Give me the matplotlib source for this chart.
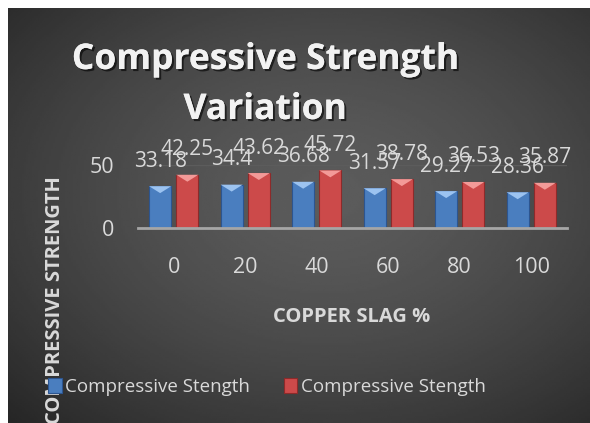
import numpy as np
import matplotlib
matplotlib.use('Agg')
import matplotlib.pyplot as plt
from matplotlib.patches import Polygon
import matplotlib.patheffects as pe

plt.rcParams['font.family'] = ['Open Sans', 'DejaVu Sans']

categories = ['0', '20', '40', '60', '80', '100']
series_a = [33.18, 34.4, 36.68, 31.57, 29.27, 28.36]
series_b = [42.25, 43.62, 45.72, 38.78, 36.53, 35.87]
series_names = ['Compressive Stength', 'Compressive Stength']

W, H = 590, 423
fig = plt.figure(figsize=(W / 100, H / 100), dpi=100)
fig.patch.set_facecolor('white')

# dark radial background
bg = fig.add_axes([8 / W, 0, 1 - 8 / W, 1 - 8 / H])
bg.set_axis_off()
yy, xx = np.mgrid[0:1:200j, 0:1:280j]
r = np.sqrt(((xx - 0.55) / 0.75) ** 2 + ((yy - 0.45) / 0.75) ** 2)
grad = np.clip(0.36 - 0.2 * r ** 1.5, 0.15, 0.37)
bg.imshow(grad, cmap='gray', vmin=0, vmax=1, aspect='auto', extent=[0, 1, 0, 1])

txt = '#d9d9d9'
shadow = [pe.withSimplePatchShadow(offset=(1.5, -1.5), shadow_rgbFace='black', alpha=0.6), pe.Normal()]

ax = fig.add_axes([138 / W, (H - 228) / H, (567 - 138) / W, 63 / H])
ax.set_facecolor('none')
x = np.arange(len(categories))
bw = 0.31
off = 0.19
colors = [('#4a7ebf', '#9cc3f0', '#2c5590'), ('#cc4a4a', '#f39a98', '#8e2a2a')]
for vals, sign, (c, hi, dk) in zip([series_a, series_b], [-1, 1], colors):
    ax.bar(x + sign * off, vals, bw, color=c, edgecolor=dk, linewidth=0.8, zorder=2)
    for xi, v in zip(x + sign * off, vals):
        ax.add_patch(Polygon([(xi - bw / 2, v), (xi + bw / 2, v), (xi, v - 5.5)],
                             closed=True, facecolor=hi, edgecolor='none', zorder=3))
        ax.annotate(f'{v:g}', (xi, v), xytext=(0, 18), textcoords='offset points',
                    ha='center', va='center', color=txt, fontsize=15, zorder=4,
                    annotation_clip=False)

ax.set_xlim(-0.5, len(categories) - 0.5)
ax.set_ylim(0, 50)
ax.set_yticks([0, 50])
ax.set_xticks(x)
ax.set_xticklabels(categories)
ax.axhline(50, color='#5c5c5c', linewidth=1, zorder=1)
for s in ['top', 'right', 'left']:
    ax.spines[s].set_visible(False)
ax.spines['bottom'].set_color('#a6a6a6')
ax.spines['bottom'].set_linewidth(2)
ax.spines['bottom'].set_zorder(5)
ax.tick_params(length=0, colors=txt, labelsize=15.5)
ax.tick_params(axis='x', pad=21)
ax.tick_params(axis='y', pad=17)

fig.text(265 / W, 1 - 60 / H, 'Compressive Strength', ha='center', va='center',
         fontsize=25.5, fontweight='bold', color='#f2f2f2', path_effects=shadow)
fig.text(265 / W, 1 - 110 / H, 'Variation', ha='center', va='center',
         fontsize=25.5, fontweight='bold', color='#f2f2f2', path_effects=shadow)
fig.text(352 / W, 1 - 317 / H, 'COPPER SLAG %', ha='center', va='center',
         fontsize=14.5, fontweight='bold', color=txt)
fig.text(55 / W, 1 - 300 / H, 'COMPRESSIVE STRENGTH', ha='center', va='center',
         rotation=90, fontsize=14.5, fontweight='bold', color=txt)

handles = [ax.patches[0], ax.patches[12]]
leg = fig.legend(handles, series_names, loc='center', bbox_to_anchor=(267 / W, 1 - 387 / H),
                 ncol=2, frameon=False, handlelength=0.7, handleheight=0.8,
                 handletextpad=0.2, columnspacing=1.8, fontsize=13.5)
for t in leg.get_texts():
    t.set_color(txt)

fig.savefig('out.png', dpi=100, facecolor=fig.get_facecolor())
